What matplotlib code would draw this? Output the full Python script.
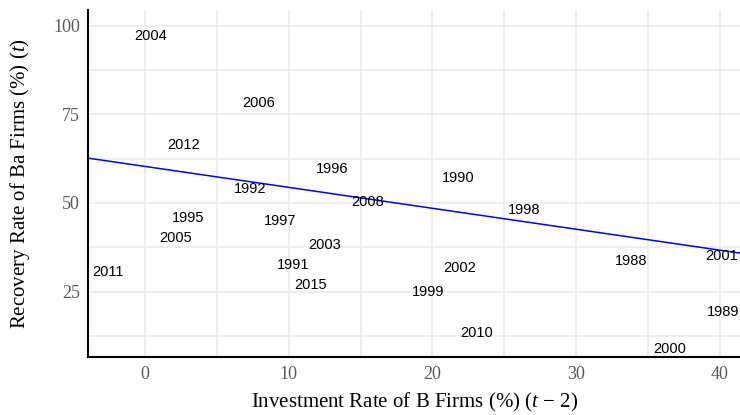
import matplotlib
matplotlib.use("Agg")
import matplotlib.pyplot as plt
import numpy as np

# year labels with (investment rate t-2, recovery rate t)
years = ['2004', '2006', '2012', '1996', '1990', '1992', '2008', '1998', '1995',
         '1997', '2005', '2003', '1991', '2011', '2002', '1988', '2001', '2015',
         '1999', '1989', '2010', '2000']
invest = [0.4, 7.9, 2.7, 13.0, 21.8, 7.3, 15.5, 26.4, 3.0,
          9.4, 2.1, 12.5, 10.3, -2.6, 21.9, 33.8, 40.1, 11.5,
          19.7, 40.2, 23.1, 36.5]
recovery = [97.5, 78.6, 66.7, 60.1, 57.5, 54.4, 50.8, 48.5, 46.2,
            45.3, 40.6, 38.7, 33.0, 31.1, 32.0, 34.0, 35.4, 27.4,
            25.4, 19.8, 13.9, 9.4]

# fitted line
intercept = 60.3
slope = -0.59

xticks = [0, 10, 20, 30, 40]
yticks = [25, 50, 75, 100]

plt.rcParams['mathtext.fontset'] = 'custom'
plt.rcParams['mathtext.rm'] = 'Liberation Serif'
plt.rcParams['mathtext.it'] = 'Liberation Serif:italic'

fig = plt.figure(figsize=(7.4, 4.15), dpi=100)
ax = fig.add_axes([0.1193, 0.139, 0.8807, 0.837])

xlim = (-3.95, 41.4)
ylim = (6.5, 104.4)
ax.set_xlim(*xlim)
ax.set_ylim(*ylim)

# grid (major + minor)
for v in np.arange(-5, 45, 5):
    ax.axvline(v, color='#ebebeb', lw=1.2, zorder=0)
for v in np.arange(12.5, 105, 12.5):
    ax.axhline(v, color='#ebebeb', lw=1.2, zorder=0)

xs = np.array(xlim)
ax.plot(xs, intercept + slope * xs, color='#0000ff', lw=1.1, zorder=2)

for yr, xv, yv in zip(years, invest, recovery):
    ax.text(xv, yv, yr, ha='center', va='center_baseline', fontsize=10.5,
            family='Liberation Sans', color='black', zorder=3)

ax.set_xticks(xticks)
ax.set_yticks(yticks)
ax.tick_params(length=0, labelsize=13, labelcolor='#5a5a5a', pad=6)
for lab in ax.get_xticklabels() + ax.get_yticklabels():
    lab.set_family('Liberation Serif')

for s in ['top', 'right']:
    ax.spines[s].set_visible(False)
for s in ['left', 'bottom']:
    ax.spines[s].set_linewidth(1.5)
    ax.spines[s].set_color('black')

ax.set_xlabel('Investment Rate of B Firms (%) ($t$ − 2)', family='Liberation Serif',
              fontsize=15, labelpad=6)
ax.set_ylabel('Recovery Rate of Ba Firms (%) ($t$)', family='Liberation Serif',
              fontsize=15, labelpad=15)

fig.savefig('out.png', dpi=100)
